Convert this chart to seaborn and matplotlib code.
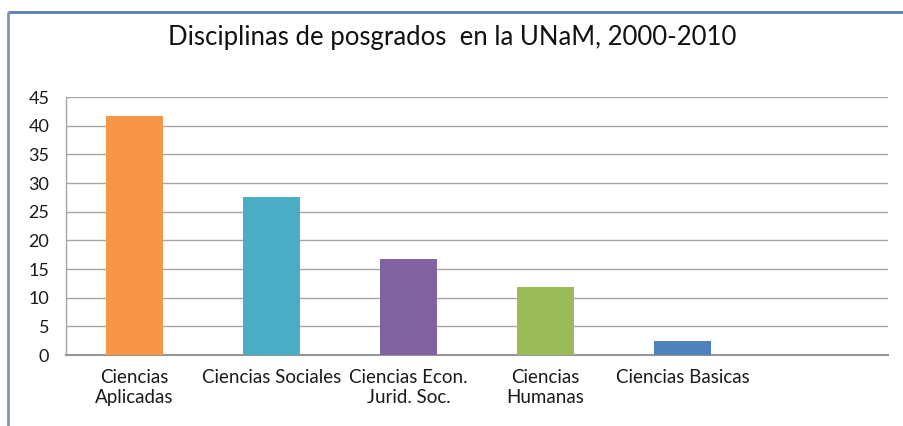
import matplotlib
matplotlib.use("Agg")
import matplotlib.pyplot as plt
import seaborn as sns
import pandas as pd
from matplotlib.lines import Line2D

categories = ["Ciencias\nAplicadas", "Ciencias Sociales", "Ciencias Econ.\nJurid. Soc.",
              "Ciencias\nHumanas", "Ciencias Basicas"]
values = [41.7, 27.5, 16.7, 11.9, 2.4]
colors = ["#F79646", "#4BACC6", "#8064A2", "#9BBB59", "#4F81BD"]
yticks = [0, 5, 10, 15, 20, 25, 30, 35, 40, 45]
title = "Disciplinas de posgrados  en la UNaM, 2000-2010"

sns.set_theme(style="white")
plt.rcParams["font.family"] = ["Lato", "DejaVu Sans"]

df = pd.DataFrame({"cat": categories, "val": values})

fig = plt.figure(figsize=(9.04, 4.26), dpi=100)
ax = fig.add_axes([66/904, 1-355/426, (888-66)/904, (355-97)/426])

sns.barplot(data=df, x="cat", y="val", hue="cat", palette=colors, order=categories,
            hue_order=categories, width=0.41, legend=False, ax=ax, saturation=1,
            linewidth=0, zorder=3)

ax.set_xlim(-0.5, 5.5)
ax.set_ylim(0, 45)
ax.set_yticks(yticks)
ax.set_yticklabels([str(t) for t in yticks], fontsize=13, color="#1a1a1a")
ax.tick_params(axis="x", labelsize=13.5, pad=10, length=0, colors="#1a1a1a")
ax.tick_params(axis="y", pad=12, length=0)
for lab in ax.get_xticklabels():
    lab.set_color("#1a1a1a")
    lab.set_linespacing(1.25)
ax.set_xlabel("")
ax.set_ylabel("")
ax.yaxis.grid(True, color="#A6A6A6", linewidth=1.0, zorder=0)
ax.set_axisbelow(True)
for s in ["top", "right"]:
    ax.spines[s].set_visible(False)
ax.spines["left"].set_color("#A6A6A6")
ax.spines["left"].set_linewidth(1.0)
ax.spines["bottom"].set_color("#969696")
ax.spines["bottom"].set_linewidth(1.5)

fig.text(0.5, 1-38/426, title, ha="center", va="center", fontsize=18.5, color="#111111")

ytop = 1 - 12/426
xl = 8/904
fig.lines.append(Line2D([xl, 1.05], [ytop, ytop], transform=fig.transFigure,
                        color="#5B7DB4", linewidth=2.0, solid_capstyle="butt"))
fig.lines.append(Line2D([xl, xl], [ytop, -0.05], transform=fig.transFigure,
                        color="#7F93C0", linewidth=2.0, solid_capstyle="butt"))

fig.savefig("out.png", dpi=100)
